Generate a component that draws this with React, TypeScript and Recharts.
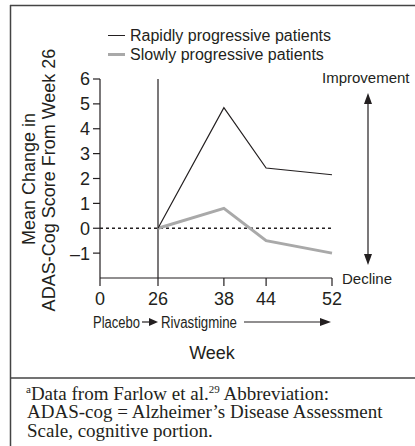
import { LineChart, Line, XAxis, YAxis, ReferenceLine, Legend } from "recharts";

// weeks measured (rivastigmine start = week 26)
const weeks = [26, 38, 44, 52];
const rapidChange = [0, 4.85, 2.42, 2.15];
const slowChange = [0, 0.8, -0.5, -1.0];

const weekTicks = [0, 26, 38, 44, 52];
const scoreTicks = [-1, 0, 1, 2, 3, 4, 5, 6];

const seriesNames = ["Rapidly progressive patients", "Slowly progressive patients"];

// the printed week axis is stretched toward the end, roughly a square law
const warp = (w: number) => w * w;

const data = weeks.map((w, i) => ({
  wx: warp(w),
  rapid: rapidChange[i],
  slow: slowChange[i],
}));

const INK = "#231f20";
const GREY = "#a9a9a9";
const SANS = "'Liberation Sans', Arial, Helvetica, sans-serif";
const NARROW = "'Liberation Sans Narrow', 'Arial Narrow', 'Liberation Sans', sans-serif";
const SERIF = "'Liberation Serif', 'Times New Roman', serif";

const legendItems = [
  { name: seriesNames[0], color: INK, h: 1.5 },
  { name: seriesNames[1], color: GREY, h: 3 },
];

const renderLegend = () => (
  <div style={{ fontFamily: SANS, fontSize: 16, color: INK, lineHeight: "19px" }}>
    {legendItems.map((it) => (
      <div key={it.name} style={{ display: "flex", alignItems: "center", whiteSpace: "nowrap" }}>
        <span
          style={{ display: "inline-block", width: 17, height: it.h, background: it.color, marginRight: 5 }}
        />
        {it.name}
      </div>
    ))}
  </div>
);

const fmtScore = (v: number) => (v < 0 ? "\u2013" + Math.abs(v) : String(v));
const fmtWeek = (v: number) => String(Math.round(Math.sqrt(v)));

export default function App() {
  return (
    <div style={{ position: "absolute", left: 0, top: 0, width: 415, height: 446, background: "#fff" }}>
      <LineChart
        width={415}
        height={446}
        data={data}
        margin={{ top: 79, right: 83, bottom: 128, left: 40 }}
      >
        <XAxis
          type="number"
          dataKey="wx"
          domain={[0, warp(52)]}
          ticks={weekTicks.map(warp)}
          tickFormatter={fmtWeek}
          height={40}
          tickSize={8}
          tickMargin={6}
          axisLine={{ stroke: INK, strokeWidth: 1.2 }}
          tickLine={{ stroke: INK, strokeWidth: 1.2 }}
          tick={{ fill: INK, fontSize: 18, fontFamily: SANS }}
          interval={0}
        />
        <YAxis
          type="number"
          domain={[-2, 6]}
          ticks={scoreTicks}
          tickFormatter={fmtScore}
          width={60}
          tickSize={7}
          tickMargin={3}
          axisLine={{ stroke: INK, strokeWidth: 1.2 }}
          tickLine={{ stroke: INK, strokeWidth: 1.2 }}
          tick={{ fill: INK, fontSize: 18, fontFamily: SANS }}
          interval={0}
        />
        <ReferenceLine y={0} stroke={INK} strokeWidth={1.5} strokeDasharray="3 3" />
        <ReferenceLine x={warp(26)} stroke={INK} strokeWidth={1.2} />
        <Legend
          layout="vertical"
          align="center"
          verticalAlign="middle"
          content={renderLegend}
          wrapperStyle={{ position: "absolute", top: 26, left: 108, width: "auto" }}
        />
        <Line
          dataKey="slow"
          name={seriesNames[1]}
          stroke={GREY}
          strokeWidth={3}
          dot={false}
          isAnimationActive={false}
        />
        <Line
          dataKey="rapid"
          name={seriesNames[0]}
          stroke={INK}
          strokeWidth={1.2}
          dot={false}
          isAnimationActive={false}
        />
      </LineChart>

      {/* frame, annotations and footnote */}
      <svg
        width={415}
        height={446}
        style={{ position: "absolute", left: 0, top: 0, pointerEvents: "none" }}
      >
        <line x1={10} y1={5.5} x2={415} y2={5.5} stroke="#444" strokeWidth={1.5} />
        <line x1={10.5} y1={5} x2={10.5} y2={446} stroke="#444" strokeWidth={1.5} />
        <line x1={10} y1={378} x2={415} y2={378} stroke="#444" strokeWidth={1.5} />

        <g fontFamily={SANS} fontSize={18} fill={INK} textAnchor="middle">
          <text transform="translate(35,179) rotate(-90)">Mean Change in</text>
          <text transform="translate(55,180) rotate(-90)">ADAS-Cog Score From Week 26</text>
        </g>

        {/* improvement / decline arrow */}
        <text x={322} y={83} fontFamily={SANS} fontSize={15} fill={INK}>Improvement</text>
        <text x={342} y={284} fontFamily={SANS} fontSize={15} fill={INK}>Decline</text>
        <line x1={368} y1={102} x2={368} y2={256} stroke={INK} strokeWidth={1.2} />
        <polygon points="368,93 364,104 372,104" fill={INK} />
        <polygon points="368,265 364,254 372,254" fill={INK} />

        {/* treatment row */}
        <text x={93} y={327.5} fontFamily={NARROW} fontSize={16} fill={INK} textLength={47} lengthAdjust="spacingAndGlyphs">
          Placebo
        </text>
        <line x1={142} y1={322} x2={152} y2={322} stroke={INK} strokeWidth={1.2} />
        <polygon points="158,322 149,318 149,326" fill={INK} />
        <text x={161} y={327.5} fontFamily={NARROW} fontSize={16} fill={INK} textLength={76} lengthAdjust="spacingAndGlyphs">
          Rivastigmine
        </text>
        <line x1={244} y1={322} x2={322} y2={322} stroke={INK} strokeWidth={1.2} />
        <polygon points="331,322 320,318 320,326" fill={INK} />

        <text x={212} y={358.5} fontFamily={SANS} fontSize={18} fill={INK} textAnchor="middle">Week</text>

        <g fontFamily={SERIF} fontSize={19} fill={INK}>
          <text x={26} y={400}>
            <tspan fontSize={11} dy={-7}>a</tspan>
            <tspan dy={7}>Data from Farlow et al.</tspan>
            <tspan fontSize={11} dy={-7}>29</tspan>
            <tspan dy={7}> Abbreviation:</tspan>
          </text>
          <text x={27} y={418}>ADAS-cog = Alzheimer’s Disease Assessment</text>
          <text x={27} y={437}>Scale, cognitive portion.</text>
        </g>
      </svg>
    </div>
  );
}
